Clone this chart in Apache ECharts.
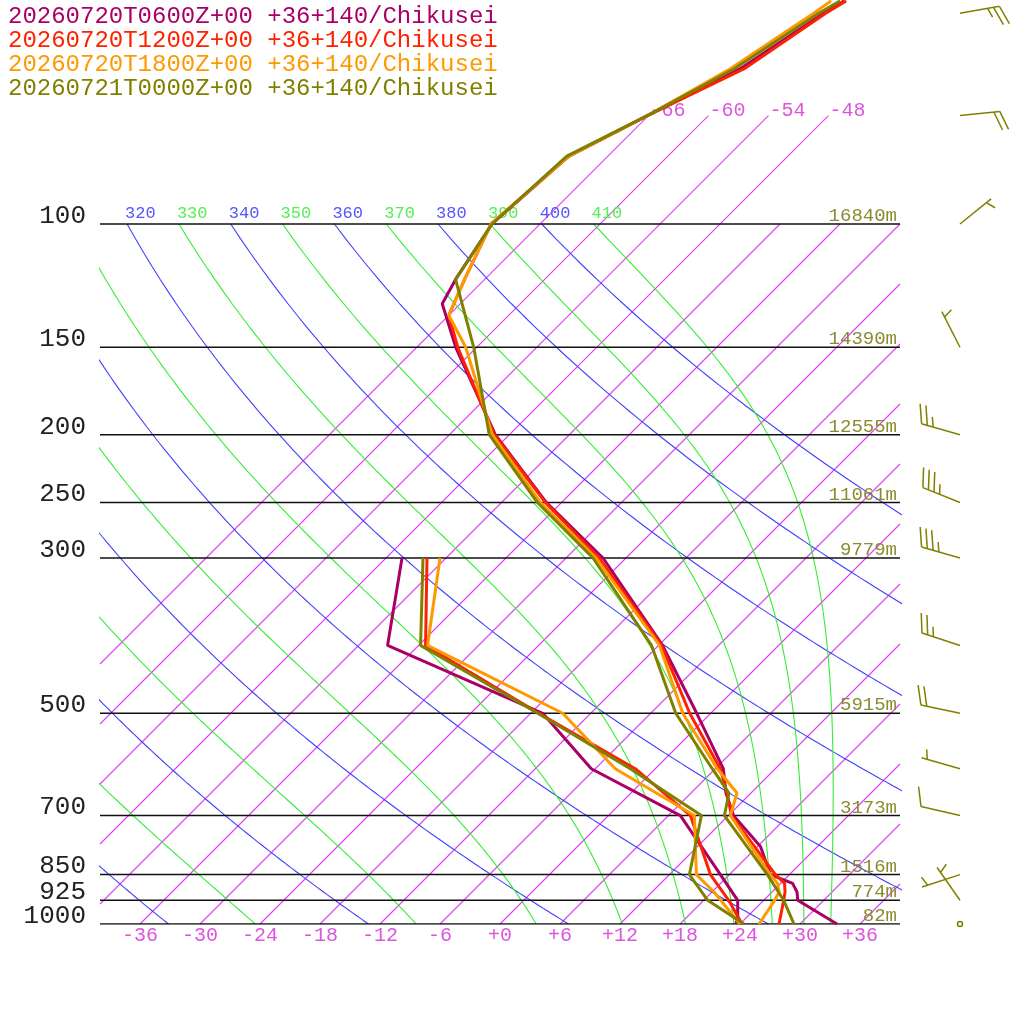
<!DOCTYPE html>
<html>
<head>
<meta charset="utf-8">
<script src="https://cdn.jsdelivr.net/npm/echarts@6/dist/echarts.min.js"></script>
<style>
  html, body { margin: 0; padding: 0; background: #fff; }
  #chart { width: 1024px; height: 1024px; }
</style>
</head>
<body>
<div id="chart"></div>
<script>
// pressure levels (hPa) shared by the four soundings; null = no bend read there
const levels = [1000, 975, 950, 925, 900, 875, 850, 775, 700, 650, 600, 500, 400, 300, 250, 200, 150, 135, 130, 120, 100, 80, 70, 60, 50, 48];

const temp0600 = [33.7, null, null, 27.4, 26.5, 25.2, 22.1, 18.3, 12.5, 9.5, 6.8, -1.4, -11.6, -26.3, -37.5, -49.4, -62.1, null, -67.8, -68.9, -70.8, -69.9, -66.1, -61.5, -58.7, -57.9];
const dewp0600 = [23.6, 23.0, null, 21.4, null, null, 17.1, null, 7.2, null, -6.4, -16.8, -39.1, -46.4];
const temp1200 = [27.9, null, null, 26.0, 25.3, 24.4, 22.6, null, 12.3, 9.6, 6.5, -2.1, -11.7, -26.7, -37.6, -49.5, -61.9, -66.0, null, -68.0, -70.9, -69.9, -66.1, -61.1, -58.5, -57.7];
const dewp1200 = [24.2, null, null, 20.5, null, null, 16.1, null, 8.2, null, -2.0, -17.2, -35.3, -43.9];
const temp1800 = [25.9, null, null, 25.1, 24.7, 23.7, 22.1, null, 12.2, 10.6, 6.2, -2.8, -11.9, -27.0, -38.1, -49.7, -61.1, -66.0, null, -68.0, -70.9, -69.9, -66.1, -62.5, -59.7, -59.2];
const dewp1800 = [24.0, null, null, null, 18.2, null, 14.7, null, 8.6, null, -4.0, -14.8, -35.1, -42.6];
const temp0000 = [29.4, null, null, 26.0, null, null, 21.8, null, 11.6, 9.8, 5.7, -3.5, -12.7, -27.3, -38.4, -50.0, -60.3, null, null, -68.9, -70.8, -70.1, -66.1, -62.1, -59.2, -58.3];
const dewp0000 = [24.4, null, null, 18.4, null, null, 14.0, null, 9.3, null, -2.5, -17.3, -35.8, -44.3];

const runLabels = [
  '20260720T0600Z+00 +36+140/Chikusei',
  '20260720T1200Z+00 +36+140/Chikusei',
  '20260720T1800Z+00 +36+140/Chikusei',
  '20260721T0000Z+00 +36+140/Chikusei'
];
const runColors = ['#aa0066', '#ff2200', '#ff9900', '#808000'];

// wind of the last run (knots, direction the wind blows from)
const windLevels = [50, 70, 100, 150, 200, 250, 300, 400, 500, 600, 700, 850, 925, 1000];
const windDir = [80, 84, 51, 333, 286, 292, 286, 288, 282, 286, 283, 252, 325, 0];
const windKt = [25, 20, 5, 5, 25, 35, 35, 25, 20, 5, 10, 5, 5, 0];

// labelled isobars and their heights
const isobars = [100, 150, 200, 250, 300, 500, 700, 850, 925, 1000];
const heights = ['16840m', '14390m', '12555m', '11061m', '9779m', '5915m', '3173m', '1516m', '774m', '82m'];

const tempTicks = [-36, -30, -24, -18, -12, -6, 0, 6, 12, 18, 24, 30, 36];
const isotherms = [-66, -60, -54, -48, -42, -36, -30, -24, -18, -12, -6, 0, 6, 12, 18, 24, 30, 36];
const labelledIsotherms = [-66, -60, -54, -48];
const dryTheta = [240, 260, 280, 300, 320, 340, 360, 380, 400];
const moistThetaE = [250, 270, 290, 310, 330, 350, 370, 390, 410];
const thetaLabels = [320, 330, 340, 350, 360, 370, 380, 390, 400, 410];

const SKEW = 70;            // x units per decade of pressure
const KAPPA = 287.04 / 1005.7;
const P_TOP = 1000 / Math.pow(10, 924 / 700);
const BARB_X = 46;
const FONT = '"Liberation Mono", "DejaVu Sans Mono", monospace';
const ISO_COLOR = '#e040f0', BLUE = '#4040ff', GREEN = '#33ee33', OLIVE = '#808000';

let skewX = (t, p) => t + SKEW * Math.log10(1000 / p);

function moistLapse(T, p) {
  const Rd = 287.04, cp = 1005.7, Lv = 2.501e6, eps = 0.622;
  const tc = T - 273.15;
  const es = 6.112 * Math.exp(17.67 * tc / (tc + 243.5));
  const rs = eps * es / (p - es);
  return (Rd * T + Lv * rs) / (p * (cp + Lv * Lv * rs * eps / (Rd * T * T)));
}

function dryAdiabat(theta) {
  const pts = [];
  for (let p = 100; p <= 1000; p += 5) {
    pts.push([skewX(theta * Math.pow(p / 1000, KAPPA) - 273.15, p), p]);
  }
  return pts;
}

function pseudoAdiabat(theta) {
  const pts = [];
  let T = theta * Math.pow(0.1, KAPPA);
  for (let p = 100; p <= 1000; p += 1) {
    if ((p - 100) % 5 === 0) pts.push([skewX(T - 273.15, p), p]);
    const k1 = moistLapse(T, p);
    const k2 = moistLapse(T + 0.5 * k1, p + 0.5);
    T += k2;
  }
  return pts;
}

function lineSeries(data, color, width, z) {
  return {
    type: 'line', data: data, symbol: 'none', silent: true, z: z,
    lineStyle: { color: color, width: width }
  };
}

// isotherm segment: from where it enters the plot up to its top pressure
function isothermEnds(t) {
  const top = labelledIsotherms.includes(t) ? 70 : 100;
  const pStart = Math.min(1000, 1000 / Math.pow(10, (-40 - t) / SKEW));
  const pEnd = Math.max(top, 1000 / Math.pow(10, (40 - t) / SKEW));
  return [skewX(t, pStart), pStart, skewX(t, pEnd), pEnd];
}

function profile(values, color) {
  const data = [];
  values.forEach((t, i) => { if (t != null) data.push([skewX(t, levels[i]), levels[i]]); });
  return lineSeries(data, color, 3, 5);
}

function textSeries(coords, texts, opt) {
  return {
    type: 'custom', coordinateSystem: 'cartesian2d', clip: false, silent: true, z: opt.z || 3,
    encode: { x: 0, y: 1 },
    data: coords,
    renderItem: function (params, api) {
      const pt = api.coord([api.value(0), api.value(1)]);
      const fill = typeof opt.color === 'function' ? opt.color(params.dataIndex) : opt.color;
      return {
        type: 'text', x: pt[0] + (opt.dx || 0), y: pt[1] + (opt.dy || 0),
        style: { text: texts[params.dataIndex], fill: fill, font: opt.font, align: opt.align, verticalAlign: 'middle' }
      };
    }
  };
}

function renderBarb(params, api) {
  const pt = api.coord([api.value(0), api.value(1)]);
  const dir = api.value(2), kt = api.value(3);
  const style = { stroke: OLIVE, lineWidth: 1.5, fill: null };
  if (kt < 2.5) {
    return { type: 'circle', shape: { cx: pt[0], cy: pt[1], r: 2.5 }, style: style };
  }
  const rad = dir * Math.PI / 180;
  const ux = Math.sin(rad), uy = -Math.cos(rad);
  const tip = [pt[0] + ux * 40, pt[1] + uy * 40];
  const a = 70 * Math.PI / 180;
  const bx = ux * Math.cos(a) - uy * Math.sin(a);
  const by = ux * Math.sin(a) + uy * Math.cos(a);
  const children = [{ type: 'line', shape: { x1: pt[0], y1: pt[1], x2: tip[0], y2: tip[1] }, style: style }];
  const s = Math.round(kt / 5) * 5;
  const nLong = Math.floor(s / 10), nShort = s % 10 >= 5 ? 1 : 0;
  let pos = nLong === 0 ? 6 : 0;
  const addBarb = (len) => {
    const x0 = tip[0] - ux * pos, y0 = tip[1] - uy * pos;
    children.push({ type: 'line', shape: { x1: x0, y1: y0, x2: x0 + bx * len, y2: y0 + by * len }, style: style });
    pos += 6;
  };
  for (let i = 0; i < nLong; i++) addBarb(20);
  if (nShort) addBarb(10);
  return { type: 'group', children: children };
}

const series = [];

series.push({
  type: 'custom', coordinateSystem: 'cartesian2d', clip: false, silent: true, z: 1,
  encode: { x: [0, 2], y: [1, 3] },
  data: isotherms.map(isothermEnds),
  renderItem: function (params, api) {
    const a = api.coord([api.value(0), api.value(1)]);
    const b = api.coord([api.value(2), api.value(3)]);
    return { type: 'line', shape: { x1: a[0], y1: a[1], x2: b[0], y2: b[1] }, style: { stroke: ISO_COLOR, lineWidth: 1.1 } };
  }
});
dryTheta.forEach(th => series.push(lineSeries(dryAdiabat(th), BLUE, 1.1, 1)));
moistThetaE.forEach(th => series.push(lineSeries(pseudoAdiabat(th), GREEN, 1.1, 1)));
isobars.forEach(p => series.push(lineSeries([[-40, p], [40, p]], '#111', 1.5, 2)));

series.push(textSeries(isobars.map(p => [-40, p]), isobars.map(String),
  { color: '#222', font: '26px ' + FONT, align: 'right', dx: -14, dy: -8 }));
series.push(textSeries(isobars.map(p => [40, p]), heights,
  { color: '#8a8a30', font: '19px ' + FONT, align: 'right', dx: -3, dy: -8 }));
series.push(textSeries(labelledIsotherms.map(t => [skewX(t, 70), 70]), labelledIsotherms.map(String),
  { color: '#dd55dd', font: '20px ' + FONT, align: 'left', dx: 1, dy: -5 }));
series.push(textSeries(thetaLabels.map(th => [skewX(th * Math.pow(0.1, KAPPA) - 273.15, 100), 100]), thetaLabels.map(String),
  { color: i => (thetaLabels[i] % 20 === 0 ? '#5555ff' : '#55ee55'), font: '17px ' + FONT, align: 'left', dx: -2, dy: -11 }));

[[temp0600, dewp0600], [temp1200, dewp1200], [temp1800, dewp1800], [temp0000, dewp0000]].forEach((pair, i) => {
  series.push(profile(pair[1], runColors[i]));
  series.push(profile(pair[0], runColors[i]));
});

series.push({
  type: 'custom', coordinateSystem: 'cartesian2d', clip: false, silent: true, z: 5,
  encode: { x: 0, y: 1 },
  data: windLevels.map((p, i) => [BARB_X, p, windDir[i], windKt[i]]),
  renderItem: renderBarb
});

const chart = echarts.init(document.getElementById('chart'));
chart.setOption({
  animation: false,
  backgroundColor: '#fff',
  grid: { left: 100, right: 124, top: 0, bottom: 100 },
  xAxis: {
    type: 'value', min: -40, max: 40,
    axisLine: { show: false }, axisTick: { show: false }, splitLine: { show: false },
    axisLabel: {
      customValues: tempTicks,
      formatter: v => (v >= 0 ? '+' + v : String(v)),
      color: '#dd55dd', fontFamily: FONT, fontSize: 20, margin: 2
    }
  },
  yAxis: { type: 'log', logBase: 10, min: P_TOP, max: 1000, inverse: true, show: false },
  graphic: runLabels.map((t, i) => ({
    type: 'text', left: 8, top: 5 + i * 24,
    style: { text: t, fill: runColors[i], font: '24px ' + FONT }
  })),
  series: series
});
</script>
</body>
</html>
